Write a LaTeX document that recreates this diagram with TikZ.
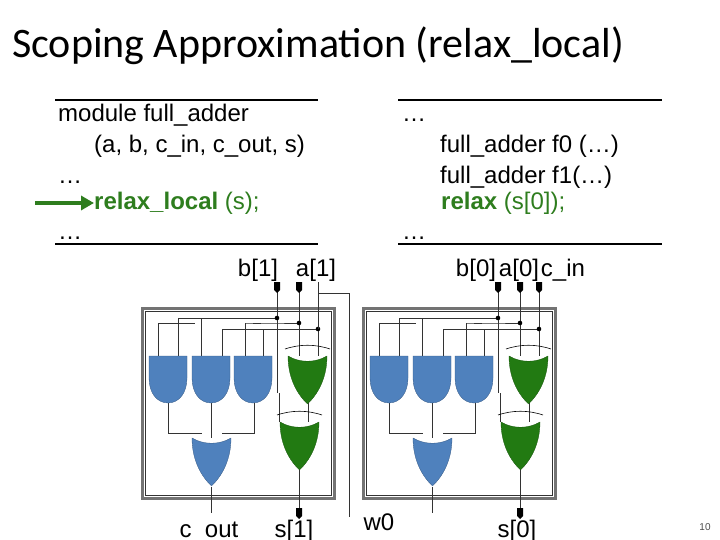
\documentclass[tikz,border=0pt]{standalone}
\usetikzlibrary{arrows.meta}
\usepackage{fontspec}
\setmainfont{Liberation Sans}
\newfontfamily\titlefont{Carlito}
\definecolor{gblue}{RGB}{79,129,189}
\definecolor{ggreen}{RGB}{34,122,18}
\definecolor{codegreen}{RGB}{46,125,30}
\begin{document}
\begin{tikzpicture}[x=1pt,y=-1pt,
  wire/.style={line width=0.6pt,black!80},
  code/.style={anchor=base west,font=\fontsize{24}{28}\selectfont,inner sep=0},
  lab/.style={anchor=base,font=\fontsize{24}{28}\selectfont,inner sep=0},
  pics/andg/.style={code={\fill[gblue,draw=gblue!70!black,line width=0.3pt] (0,0)--(38,0)--(38,22) .. controls (38,37) and (30,47) .. (19,47) .. controls (8,47) and (0,37) .. (0,22) -- cycle;}},
  pics/org/.style={code={\fill[#1,draw=#1!70!black,line width=0.3pt] (0,0) .. controls (12,7) and (27,7) .. (39,0) .. controls (39,22) and (30,38) .. (19.5,48) .. controls (9,38) and (0,22) .. (0,0) -- cycle;}},
  pics/xorg/.style={code={\pic{org=ggreen};\draw[line width=0.6pt] (-3,-7) .. controls (12,-12) and (27,-12) .. (42,-7);}},
  pics/pin/.style={code={\fill[black] (-3,0)--(3,0)--(3,8)--(0,11)--(-3,8)--cycle;}},
  pics/dot/.style={code={\fill (0,0) circle (2.3);}},
  pics/fa/.style={code={
    \draw[line width=3pt,black!55] (0,0) rectangle (192,190);
    \draw[line width=0.5pt,black!80] (3,3) rectangle (189,187);
    \draw[wire] (36,10)--(135,10) (36,10)--(36,48) (59,10)--(59,48);
    \draw[wire] (16,15)--(53,15) (16,15)--(16,48) (80,21)--(80,48) (103,15)--(128,15)--(157,15);
    \draw[wire] (103,15)--(103,48) (111,15)--(119,15);
    \draw[wire] (80,21)--(176,21) (121,21)--(121,48);
    \draw[wire] (135,-26)--(135,85) (157,-26)--(157,48) (176,-26)--(176,48);
    \draw[wire] (137,85)--(137,114) (166,94)--(166,114);
    \draw[wire] (26,95)--(26,125)--(60,125) (69,95)--(69,130) (112,95)--(112,125)--(80,125);
    \draw[wire] (69,179)--(69,205) (157,160)--(157,200);
    \pic at (7,48) {andg}; \pic at (50,48) {andg}; \pic at (92,48) {andg};
    \pic at (50,130) {org=gblue};
    \pic at (146,48) {xorg}; \pic at (138,114) {xorg};
    \pic at (135,10) {dot}; \pic at (157,15) {dot}; \pic at (176,21) {dot};
    \pic at (135,-26) {pin}; \pic at (157,-26) {pin}; \pic at (157,200) {pin};
  }}]
\useasboundingbox (0,0) rectangle (720,540);
\node[anchor=base west,inner sep=0,font=\titlefont\fontsize{42}{48}\selectfont] (title) at (12,58) {Scoping Approximation (relax\_local)};
\draw[line width=2.5pt] (55,100)--(318,100) (55,244)--(318,244);
\draw[line width=2.5pt] (398,100)--(662,100) (398,244)--(662,244);
\node[code] (l1) at (58,122) {module full\_adder};
\node[code] (l2) at (94,153) {(a, b, c\_in, c\_out, s)};
\node[code] (l3) at (58,184) {\ldots};
\node[code,text=codegreen] (l4) at (94,210) {\textbf{relax\_local} (s);};
\node[code] (l5) at (58,240) {\ldots};
\node[code] (r1) at (402,122) {\ldots};
\node[code] (r2) at (440,153) {full\_adder f0 (\ldots)};
\node[code] (r3) at (440,184) {full\_adder f1(\ldots)};
\node[code,text=codegreen] (r4) at (441,210) {\textbf{relax} (s[0]);};
\node[code] (r5) at (402,240) {\ldots};
\coordinate (arrs) at (35,203);
\draw[codegreen,line width=4.5pt,-{Triangle[length=13pt,width=14pt]}] (arrs) -- (l4.west|-arrs);
\pic at (142,308) {fa};
\pic at (363,308) {fa};
\pic at (539,282) {pin};
\draw[wire] (318,329)--(318,293)--(349,293)--(349,517);
\node[lab] (b1) at (258,276) {b[1]};
\node[lab] (a1) at (316,276) {a[1]};
\node[lab] (co) at (209,537) {c\_out};
\node[lab] (s1) at (294,537) {s[1]};
\node[lab] (w0) at (379,530) {w0};
\node[lab] (b0) at (476,276) {b[0]};
\node[lab] (a0) at (519,276) {a[0]};
\node[lab] (ci) at (563,276) {c\_in};
\node[lab] (s0) at (517,537) {s[0]};
\node[anchor=base,inner sep=0,font=\fontsize{10}{11}\selectfont,text=black!70] (pg) at (705,530) {10};
\end{tikzpicture}
\end{document}
